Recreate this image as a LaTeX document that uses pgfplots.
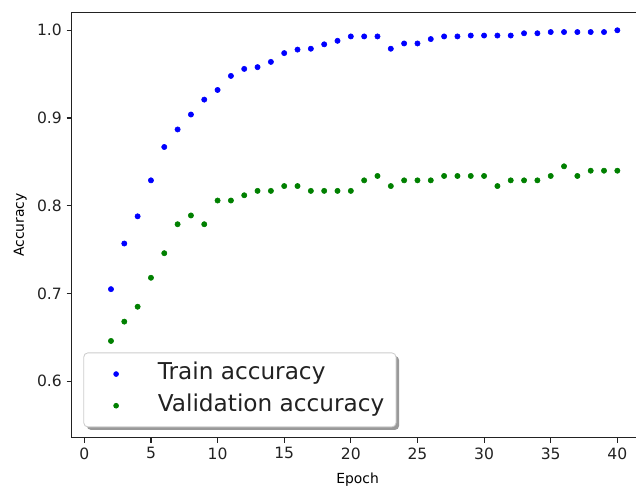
\documentclass[border=0pt]{standalone}
\usepackage{fontspec}
\setmainfont{DejaVu Sans}
\usepackage{pgfplots}
\pgfplotsset{compat=1.18}
\usetikzlibrary{shadows}
\definecolor{mplblue}{RGB}{0,0,255}
\definecolor{mplgreen}{RGB}{0,128,0}
\definecolor{txt}{RGB}{34,34,34}
\pgfplotsset{mylegimg/.style={legend image code/.code={\pgfpathrectangle{\pgfpoint{-14.9pt}{0pt}}{\pgfpoint{24.9pt}{0.1pt}}\pgfusepath{discard} \draw[##1, mark size=1.7pt] plot coordinates {(0pt,0pt)};}}}
\begin{document}
\begin{tikzpicture}
\begin{axis}[
  scale only axis,
  width=406.3pt, height=306.3pt,
  xmin=-0.95, xmax=41.4,
  ymin=0.5357, ymax=1.0205,
  axis x line*=box, axis y line*=left,
  axis line style={-, color=txt, line width=0.8pt},
  xtick={0,5,...,40},
  ytick={0.6,0.7,0.8,0.9,1.0},
  xtick pos=left, ytick pos=left,
  tick align=outside,
  major tick length=3.6pt,
  tick style={color=txt, line width=0.8pt},
  minor tick num=0,
  /pgf/number format/assume math mode=true,
  yticklabel style={/pgf/number format/.cd, fixed, fixed zerofill, precision=1},
  tick label style={font=\fontsize{11.2}{13}\selectfont, color=txt},
  xlabel={Epoch}, ylabel={Accuracy},
  label style={font=\fontsize{11.2}{13}\selectfont, color=txt},
  every axis x label/.style={at={(axis description cs:0.5,0)}, anchor=north, inner sep=0pt, yshift=-24.8pt, xshift=2.7pt},
  every axis y label/.style={at={(axis description cs:0,0.5)}, xshift=-32.2pt, rotate=90, anchor=south, inner sep=0pt},
  legend style={
    at={(axis description cs:0,0)}, anchor=south west,
    xshift=8.4pt, yshift=7.5pt,
    draw=black!20, fill=white, rounded corners=3pt,
    line width=0.6pt,
    inner xsep=8.4pt, inner ysep=7.25pt,
    row sep=6.8pt, column sep=20pt,
    font=\fontsize{16.7}{19}\selectfont,
    text=txt,
    nodes={inner sep=0pt, text height=12pt, text depth=4pt},
    drop shadow={shadow xshift=2.2pt, shadow yshift=-2.2pt, fill=black!40, opacity=1},
  },
  legend cell align=left,
]
\addplot[only marks, mark=*, color=mplblue, mark size=1.9pt, mylegimg]
  table {
x y
2 0.705
3 0.757
4 0.788
5 0.829
6 0.867
7 0.887
8 0.904
9 0.921
10 0.932
11 0.948
12 0.956
13 0.958
14 0.964
15 0.974
16 0.978
17 0.979
18 0.984
19 0.988
20 0.993
21 0.993
22 0.993
23 0.979
24 0.985
25 0.985
26 0.990
27 0.993
28 0.993
29 0.994
30 0.994
31 0.994
32 0.994
33 0.9966
34 0.9966
35 0.998
36 0.998
37 0.998
38 0.998
39 0.998
40 1.000
};
\addlegendentry{Train accuracy}
\addplot[only marks, mark=*, color=mplgreen, mark size=1.9pt, mylegimg]
  table {
x y
2 0.646
3 0.668
4 0.685
5 0.718
6 0.746
7 0.779
8 0.789
9 0.779
10 0.806
11 0.806
12 0.812
13 0.817
14 0.817
15 0.8225
16 0.8225
17 0.817
18 0.817
19 0.817
20 0.817
21 0.829
22 0.834
23 0.8225
24 0.829
25 0.829
26 0.829
27 0.834
28 0.834
29 0.834
30 0.834
31 0.8225
32 0.829
33 0.829
34 0.829
35 0.834
36 0.845
37 0.834
38 0.840
39 0.840
40 0.840
};
\addlegendentry{Validation accuracy}
\end{axis}
\pgfresetboundingbox
\path[use as bounding box] ([xshift=-51.6pt,yshift=-34.8pt]current axis.south west) rectangle ([yshift=8.86pt]current axis.north east);
\end{tikzpicture}
\end{document}
